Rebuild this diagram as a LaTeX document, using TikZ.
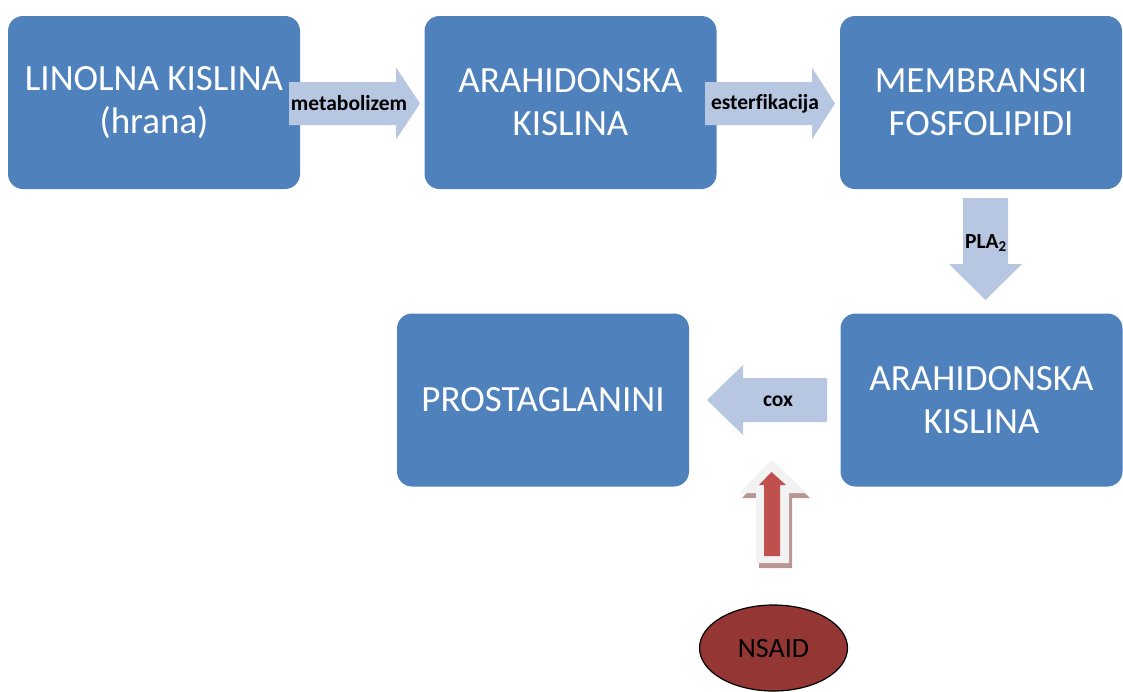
\documentclass[tikz,border=0pt]{standalone}
\usepackage{fontspec}
\setmainfont{Carlito}[Ligatures=NoCommon]
\usetikzlibrary{shapes.geometric}
\definecolor{boxblue}{RGB}{79,129,189}
\definecolor{arrowblue}{RGB}{183,198,225}
\definecolor{redarrow}{RGB}{192,80,77}
\definecolor{shadowred}{RGB}{185,150,150}
\definecolor{lightgray}{RGB}{242,242,242}
\definecolor{nsaidred}{RGB}{148,54,52}
\begin{document}
\begin{tikzpicture}[x=1pt,y=-1pt,
  box/.style={fill=boxblue, rounded corners=15pt, minimum width=#1, minimum height=173pt,
    text=white, align=center, inner sep=0pt, font=\fontsize{37}{43}\selectfont},
  box/.default=292pt,
  arrowlabel/.style={font=\bfseries\fontsize{21.5}{25}\selectfont, text=black, inner sep=0pt},
  barrow/.style={fill=arrowblue}
]
\useasboundingbox (0,0) rectangle (1123,691);
% boxes
\node[box] (b1) at (154,102.5) {LINOLNA KISLINA\\(hrana)};
\node[box] (b2) at (570.5,102.5) {ARAHIDONSKA\\KISLINA};
\node[box=282pt] (b3) at (981,102.5) {MEMBRANSKI\\FOSFOLIPIDI};
\node[box=282pt] (b4) at (981.5,400) {ARAHIDONSKA\\KISLINA};
\node[box] (b5) at (543,400) {PROSTAGLANINI};
% block arrows
\fill[barrow] (289,82) -- (396,82) -- (396,67.5) -- (420,103.5) -- (396,139.5) -- (396,125) -- (289,125) -- cycle;
\node[arrowlabel] (l1) at (349,103.5) {metabolizem};
\fill[barrow] (705,82) -- (812,82) -- (812,67.5) -- (835,103.5) -- (812,139.5) -- (812,125) -- (705,125) -- cycle;
\node[arrowlabel] (l2) at (765,103.5) {esterfikacija};
\fill[barrow] (963,198) -- (963,264) -- (949,264) -- (985.5,300) -- (1022,264) -- (1008,264) -- (1008,198) -- cycle;
\node[arrowlabel] (l3) at (986,243) {PLA\textsubscript{2}};
\fill[barrow] (827,378) -- (743,378) -- (743,365) -- (707,400) -- (743,435) -- (743,422) -- (827,422) -- cycle;
\node[arrowlabel] (l4) at (778,401) {cox};
% red inhibition arrow with shadow
\fill[shadowred] (759,498) -- (742,498) -- (774.5,465) -- (810,498) -- (792,498) -- (792,568) -- (759,568) -- cycle;
\fill[lightgray] (756,493) -- (739,493) -- (771.5,460) -- (807,493) -- (789,493) -- (789,563) -- (756,563) -- cycle;
\fill[redarrow] (764,485) -- (759,485) -- (771.5,472) -- (786,485) -- (780,485) -- (780,556) -- (764,556) -- cycle;
% NSAID
\node[ellipse, fill=nsaidred, draw=black, line width=1.2pt, minimum width=148pt, minimum height=86pt,
  inner sep=0pt, font=\fontsize{28}{32}\selectfont] (n) at (773.5,648) {NSAID};
\end{tikzpicture}
\end{document}
